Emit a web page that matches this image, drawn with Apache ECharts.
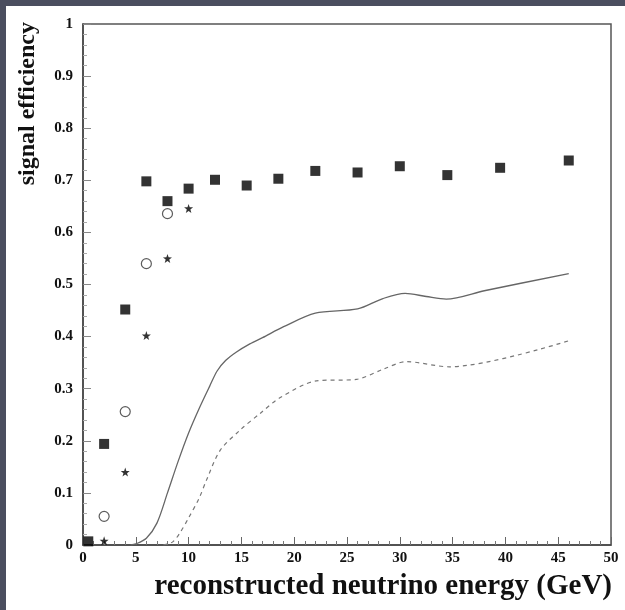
<!DOCTYPE html>
<html>
<head>
<meta charset="utf-8">
<script src="https://cdn.jsdelivr.net/npm/echarts@6/dist/echarts.min.js"></script>
<style>
  html, body { margin: 0; padding: 0; }
  #main { width: 625px; height: 610px; }
</style>
</head>
<body>
<div id="main"></div>
<script>
// filled squares
var squareX = [0.5, 2, 4, 6, 8, 10, 12.5, 15.5, 18.5, 22, 26, 30, 34.5, 39.5, 46];
var squareY = [0.007, 0.194, 0.452, 0.698, 0.660, 0.684, 0.701, 0.690, 0.703, 0.718, 0.715, 0.727, 0.710, 0.724, 0.738];
// open circles
var circleX = [2, 4, 6, 8];
var circleY = [0.055, 0.256, 0.540, 0.636];
// stars
var starX = [2, 4, 6, 8, 10];
var starY = [0.008, 0.140, 0.402, 0.550, 0.646];
// solid curve
var solidX = [4.5, 5, 6, 7, 8, 9, 10, 11, 12, 12.7, 13.5, 14.5, 15.8, 17, 19, 22, 26, 28.4, 30.5, 32.5, 34.4, 38, 46];
var solidY = [0, 0.002, 0.013, 0.042, 0.1, 0.16, 0.215, 0.262, 0.305, 0.334, 0.354, 0.370, 0.386, 0.398, 0.419, 0.445, 0.453, 0.473, 0.483, 0.477, 0.472, 0.488, 0.521];
// dashed curve
var dashX = [7.6, 8.5, 9.2, 10, 11, 11.7, 13, 14.9, 16.8, 18.6, 22.1, 25.9, 28.5, 30.6, 34.7, 46];
var dashY = [0, 0.006, 0.024, 0.052, 0.09, 0.125, 0.182, 0.221, 0.253, 0.282, 0.315, 0.318, 0.338, 0.352, 0.342, 0.392];

var xTicks = { min: 0, max: 50, interval: 5 };
var yTicks = { min: 0, max: 1, interval: 0.1 };

function pairs(xs, ys) {
  return xs.map(function (x, i) { return [x, ys[i]]; });
}

var starPath = 'path://M0,-10 L2.35,-3.24 9.51,-3.09 3.8,1.24 5.88,8.09 0,4 -5.88,8.09 -3.8,1.24 -9.51,-3.09 -2.35,-3.24Z';
var font = '"Liberation Serif", "DejaVu Serif", serif';

var chart = echarts.init(document.getElementById('main'));

var option = {
  backgroundColor: '#4b4e5f',
  animation: false,
  graphic: [
    { type: 'rect', shape: { x: 6, y: 6, width: 619, height: 604 }, style: { fill: '#ffffff' }, z: -100 },
    {
      type: 'text', left: 16, top: 22, rotation: Math.PI / 2,
      style: { text: 'signal efficiency', font: 'bold 24px ' + font, fill: '#111' }
    },
    {
      type: 'text', right: 13, top: 572,
      style: { text: 'reconstructed neutrino energy (GeV)', font: 'bold 29px ' + font, fill: '#111' }
    }
  ],
  grid: {
    left: 83, right: 14, top: 24, bottom: 65,
    show: true, borderColor: '#555', borderWidth: 1.5, backgroundColor: 'transparent'
  },
  xAxis: {
    type: 'value', min: xTicks.min, max: xTicks.max, interval: xTicks.interval,
    axisLine: { show: true, lineStyle: { color: '#444', width: 1.5 } },
    axisTick: { show: true, inside: true, length: 8, lineStyle: { color: '#666' } },
    minorTick: { show: true, splitNumber: 5, length: 4, lineStyle: { color: '#777' } },
    splitLine: { show: false },
    axisLabel: { margin: 6, color: '#111', fontFamily: font, fontWeight: 'bold', fontSize: 15 }
  },
  yAxis: {
    type: 'value', min: yTicks.min, max: yTicks.max, interval: yTicks.interval,
    axisLine: { show: true, lineStyle: { color: '#444', width: 1.5 } },
    axisTick: { show: true, inside: true, length: 8, lineStyle: { color: '#888' } },
    minorTick: { show: true, splitNumber: 5, length: 4, lineStyle: { color: '#aaa' } },
    splitLine: { show: false },
    axisLabel: {
      margin: 10, color: '#111', fontFamily: font, fontWeight: 'bold', fontSize: 15,
      formatter: function (v) { return String(Math.round(v * 10) / 10); }
    }
  },
  series: [
    {
      type: 'line', data: pairs(solidX, solidY), smooth: 0.3, showSymbol: false,
      lineStyle: { color: '#666', width: 1.3 }
    },
    {
      type: 'line', data: pairs(dashX, dashY), smooth: 0.3, showSymbol: false,
      lineStyle: { color: '#777', width: 1.2, type: [4, 4] }
    },
    {
      type: 'scatter', data: pairs(squareX, squareY), symbol: 'rect', symbolSize: 10,
      itemStyle: { color: '#000' }
    },
    {
      type: 'scatter', data: pairs(circleX, circleY), symbol: 'circle', symbolSize: 10,
      itemStyle: { color: '#fff', borderColor: '#333', borderWidth: 1.2 }
    },
    {
      type: 'scatter', data: pairs(starX, starY), symbol: starPath, symbolSize: 9,
      itemStyle: { color: '#000' }
    }
  ]
};

chart.setOption(option);
</script>
</body>
</html>
